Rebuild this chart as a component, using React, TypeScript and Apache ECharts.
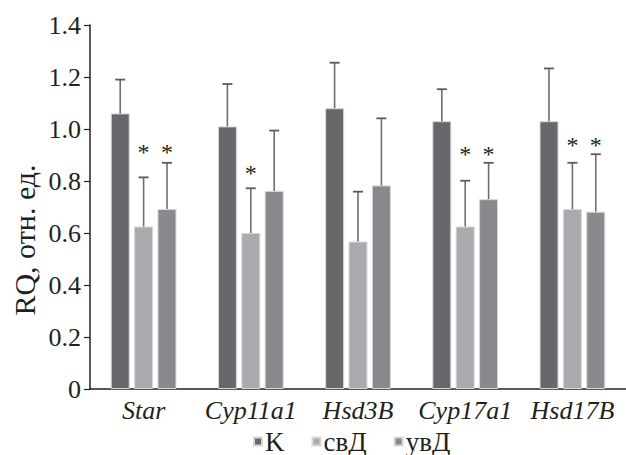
import React, { useEffect, useRef } from "react";
import * as echarts from "echarts";

const categories = ["Star", "Cyp11a1", "Hsd3B", "Cyp17a1", "Hsd17B"];
const seriesNames = ["K", "свД", "увД"];
const valuesK = [1.06, 1.01, 1.08, 1.03, 1.03];
const valuesSvD = [0.625, 0.6, 0.567, 0.625, 0.692];
const valuesUvD = [0.692, 0.762, 0.783, 0.73, 0.682];
const errTopK = [1.19, 1.173, 1.255, 1.153, 1.233];
const errTopSvD = [0.814, 0.772, 0.759, 0.801, 0.87];
const errTopUvD = [0.87, 0.994, 1.041, 0.87, 0.903];
// asterisk markers: [category index, series index, level]
const asterisks: [number, number, number][] = [
  [0, 1, 0.927], [0, 2, 0.927],
  [1, 1, 0.846],
  [3, 1, 0.919], [3, 2, 0.919],
  [4, 1, 0.954], [4, 2, 0.954],
];
const yAxisTitle = "RQ, отн. ед.";

const colors = ["#67686c", "#a9aaad", "#88898c"];
const FONT = "Liberation Serif";
const BAR_W = 19;
const BAR_STEP = 23.4;

export default function App() {
  const ref = useRef<HTMLDivElement>(null);
  useEffect(() => {
    if (!ref.current) return;
    const chart = echarts.init(ref.current, undefined, { renderer: "svg" });
    const vals = [valuesK, valuesSvD, valuesUvD];
    const errs = [errTopK, errTopSvD, errTopUvD];
    const errData: number[][] = [];
    for (let s = 0; s < 3; s++) {
      for (let c = 0; c < categories.length; c++) {
        errData.push([c, vals[s][c], errs[s][c], s]);
      }
    }
    const barSeries = seriesNames.map((name, i) => ({
      name,
      type: "bar",
      data: vals[i],
      barWidth: BAR_W,
      barGap: "23%",
      itemStyle: { color: colors[i], borderColor: "#d6d7d9", borderWidth: 1 },
      z: 2,
    }));
    chart.setOption({
      animation: false,
      textStyle: { fontFamily: FONT },
      grid: { left: 90, right: -4, top: 25, bottom: 66, containLabel: false },
      graphic: [
        {
          type: "text",
          x: 24,
          y: 240,
          rotation: Math.PI / 2,
          style: {
            text: yAxisTitle,
            fontFamily: FONT,
            fontSize: 30,
            fill: "#231f20",
            align: "center",
            verticalAlign: "middle",
          },
        },
      ],
      legend: {
        data: seriesNames,
        left: 248,
        top: 423,
        icon: "rect",
        itemWidth: 8,
        itemHeight: 8,
        itemGap: 27,
        textStyle: { fontFamily: FONT, fontSize: 27, color: "#231f20", padding: [0, 0, 0, -2] },
      },
      xAxis: {
        type: "category",
        data: categories,
        axisLine: { lineStyle: { color: "#231f20", width: 1.5 } },
        axisTick: { show: false },
        axisLabel: {
          interval: 0,
          fontFamily: FONT,
          fontStyle: "italic",
          fontSize: 26,
          color: "#231f20",
          margin: 8,
        },
      },
      yAxis: {
        type: "value",
        min: 0,
        max: 1.4,
        interval: 0.2,
        axisLine: { show: true, lineStyle: { color: "#231f20", width: 1.5 } },
        axisTick: { show: true, inside: false, length: 6, lineStyle: { color: "#231f20", width: 1.2 } },
        splitLine: { show: false },
        axisLabel: {
          fontFamily: FONT,
          fontSize: 26,
          color: "#231f20",
          margin: 9,
          formatter: (v: number) => (v === 0 ? "0" : v.toFixed(1)),
        },
      },
      series: [
        ...barSeries,
        {
          type: "custom",
          z: 3,
          data: errData,
          renderItem: (params: any, api: any) => {
            const c = api.value(0);
            const s = api.value(3);
            const base = api.coord([c, api.value(1)]);
            const top = api.coord([c, api.value(2)]);
            const x = base[0] + (s - 1) * BAR_STEP;
            return {
              type: "group",
              children: [
                {
                  type: "line",
                  shape: { x1: x, y1: base[1], x2: x, y2: top[1] },
                  style: { stroke: "#6d6e71", lineWidth: 1.6 },
                },
                {
                  type: "line",
                  shape: { x1: x - 5, y1: top[1], x2: x + 5, y2: top[1] },
                  style: { stroke: "#5a5b5e", lineWidth: 1.8 },
                },
              ],
            };
          },
        },
        {
          type: "custom",
          z: 4,
          data: asterisks,
          renderItem: (params: any, api: any) => {
            const c = api.value(0);
            const s = api.value(1);
            const p = api.coord([c, api.value(2)]);
            return {
              type: "text",
              x: p[0] + (s - 1) * BAR_STEP,
              y: p[1] + 4,
              style: {
                text: "*",
                fontFamily: FONT,
                fontSize: 24,
                fill: "#231f20",
                align: "center",
                verticalAlign: "middle",
              },
            };
          },
        },
      ],
    });
    return () => chart.dispose();
  }, []);
  return <div ref={ref} style={{ width: 626, height: 455, position: "absolute", left: 0, top: 0 }} />;
}
